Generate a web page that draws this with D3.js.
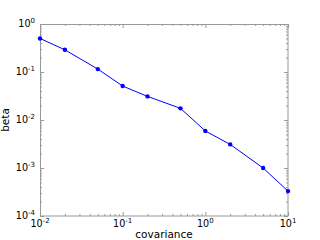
<!DOCTYPE html>
<html>
<head>
<meta charset="utf-8">
<script src="https://cdn.jsdelivr.net/npm/d3@7"></script>
<style>
  body { margin: 0; background: #fff; }
  svg { display: block; font-family: "DejaVu Sans", sans-serif; }
</style>
</head>
<body>
<div id="chart"></div>
<script>
// values
var covariance = [0.01, 0.02, 0.05, 0.1, 0.2, 0.5, 1, 2, 5, 10];
var beta = [0.50, 0.29, 0.115, 0.051, 0.031, 0.0175, 0.0059, 0.0031, 0.001, 0.00033];
var xDecades = [-2, -1, 0, 1];
var yDecades = [-4, -3, -2, -1, 0];

var W = 320, H = 240;
var margin = {top: 24, right: 32, bottom: 24, left: 40};
var width = W - margin.left - margin.right,
    height = H - margin.top - margin.bottom;

var x = d3.scaleLog().domain([1e-2, 1e1]).range([0, width]);
var y = d3.scaleLog().domain([1e-4, 1e0]).range([height, 0]);

// minor ticks: 2..9 times each decade inside the domain
function minors(decades) {
  var out = [];
  decades.slice(0, -1).forEach(function (d) {
    for (var k = 2; k <= 9; k++) out.push(k * Math.pow(10, d));
  });
  return out;
}
var xMajor = xDecades.map(function (d) { return Math.pow(10, d); });
var yMajor = yDecades.map(function (d) { return Math.pow(10, d); });

var svg = d3.select("#chart").append("svg")
  .attr("width", W).attr("height", H);

var g = svg.append("g")
  .attr("transform", "translate(" + margin.left + "," + margin.top + ")");

var tickColor = "#999";

// inside ticks (major + minor), no labels
function addTicks(mk, major, minor, tr) {
  var gMaj = g.append("g").attr("transform", tr)
    .call(mk().tickValues(major).tickSize(-4).tickFormat(""));
  var gMin = g.append("g").attr("transform", tr)
    .call(mk().tickValues(minor).tickSize(-2).tickFormat(""));
  [gMaj, gMin].forEach(function (s) {
    s.select(".domain").remove();
    s.selectAll("line").attr("stroke", tickColor);
  });
}
addTicks(function () { return d3.axisBottom(x); }, xMajor, minors(xDecades), "translate(0," + height + ")");
addTicks(function () { return d3.axisTop(x); }, xMajor, minors(xDecades), "translate(0,0)");
addTicks(function () { return d3.axisLeft(y); }, yMajor, minors(yDecades), "translate(0,0)");
addTicks(function () { return d3.axisRight(y); }, yMajor, minors(yDecades), "translate(" + width + ",0)");

// frame
g.append("rect")
  .attr("x", 0.5).attr("y", 0.5)
  .attr("width", width - 0.5).attr("height", height - 0.5)
  .attr("fill", "none").attr("stroke", tickColor).attr("stroke-width", 1);

// x tick labels
var xl = g.selectAll(".xlab").data(xDecades).enter().append("text")
  .attr("class", "xlab")
  .attr("x", function (d) { return x(Math.pow(10, d)); })
  .attr("y", height + 11)
  .attr("text-anchor", "middle")
  .attr("font-size", 9.6);
xl.append("tspan").text("10");
xl.append("tspan").attr("dy", -4).attr("font-size", 7).text(function (d) { return d; });

// y tick labels
var yl = g.selectAll(".ylab").data(yDecades).enter().append("text")
  .attr("class", "ylab")
  .attr("x", -5)
  .attr("y", function (d) { return y(Math.pow(10, d)) + 2.5; })
  .attr("text-anchor", "end")
  .attr("font-size", 9.6);
yl.append("tspan").text("10");
yl.append("tspan").attr("dy", -4).attr("font-size", 7).text(function (d) { return d; });

// line + markers
var line = d3.line()
  .x(function (d, i) { return x(covariance[i]); })
  .y(function (d) { return y(d); });

g.append("path")
  .datum(beta)
  .attr("d", line)
  .attr("fill", "none")
  .attr("stroke", "#0000ff")
  .attr("stroke-width", 1);

g.selectAll(".dot").data(beta).enter().append("circle")
  .attr("class", "dot")
  .attr("cx", function (d, i) { return x(covariance[i]); })
  .attr("cy", function (d) { return y(d); })
  .attr("r", 2.2)
  .attr("fill", "#0000ff");

// axis labels
svg.append("text")
  .attr("x", margin.left + width / 2)
  .attr("y", 238)
  .attr("text-anchor", "middle")
  .attr("font-size", 10.5)
  .text("covariance");

svg.append("text")
  .attr("transform", "translate(9," + (margin.top + height / 2) + ") rotate(-90)")
  .attr("text-anchor", "middle")
  .attr("font-size", 10.5)
  .text("beta");
</script>
</body>
</html>
